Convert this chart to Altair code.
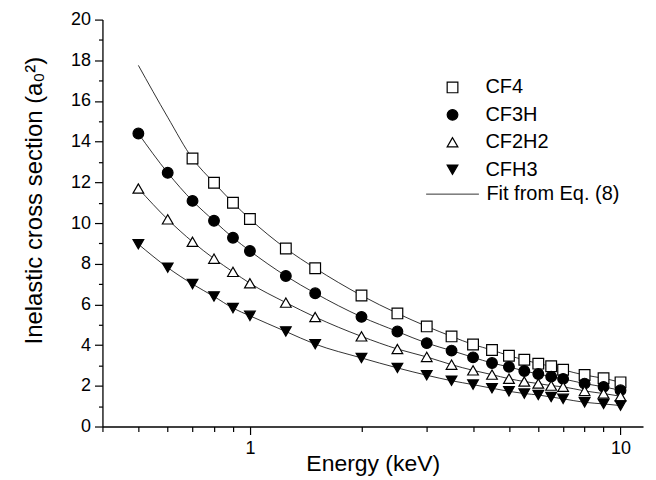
import altair as alt
import pandas as pd

# ---- data ----
series_names = ["CF4", "CF3H", "CF2H2", "CFH3"]
energy_all = [0.5, 0.6, 0.7, 0.8, 0.9, 1.0, 1.25, 1.5, 2, 2.5, 3, 3.5, 4, 4.5,
              5, 5.5, 6, 6.5, 7, 8, 9, 10]
energy_cf4 = energy_all[2:]

cf4 = [13.17, 11.98, 11.0, 10.2, 8.75, 7.78, 6.44, 5.56, 4.92, 4.43, 4.03,
       3.76, 3.48, 3.28, 3.09, 2.96, 2.79, 2.53, 2.37, 2.17]
cf3h = [14.4, 12.47, 11.09, 10.11, 9.28, 8.63, 7.4, 6.55, 5.39, 4.67, 4.10,
        3.73, 3.40, 3.12, 2.93, 2.73, 2.58, 2.45, 2.34, 2.11, 1.95, 1.78]
cf2h2 = [11.70, 10.18, 9.08, 8.25, 7.60, 7.04, 6.09, 5.38, 4.43, 3.81, 3.42,
         3.04, 2.76, 2.55, 2.35, 2.21, 2.11, 2.01, 1.95, 1.75, 1.62, 1.49]
cfh3 = [8.96, 7.81, 7.0, 6.39, 5.82, 5.44, 4.67, 4.05, 3.37, 2.88, 2.52,
        2.25, 2.06, 1.88, 1.73, 1.62, 1.55, 1.45, 1.36, 1.19, 1.11, 1.03]

# fit curves (Eq. 8)
fit_energy = energy_all
fit_cf4 = [17.75, 15.2] + cf4
fit_cf3h = cf3h
fit_cf2h2 = cf2h2
fit_cfh3 = cfh3
fit_label = "Fit from Eq. (8)"

x_major = [1, 10]
x_minor = [0.4, 0.5, 0.6, 0.7, 0.8, 0.9, 2, 3, 4, 5, 6, 7, 8, 9]
y_major = [0, 2, 4, 6, 8, 10, 12, 14, 16, 18, 20]
y_minor = [1, 3, 5, 7, 9, 11, 13, 15, 17, 19]

# ---- tables ----
rows = []
for name, es, vs in [("CF4", energy_cf4, cf4), ("CF3H", energy_all, cf3h),
                     ("CF2H2", energy_all, cf2h2), ("CFH3", energy_all, cfh3)]:
    for e, v in zip(es, vs):
        rows.append({"energy": e, "value": v, "series": name})
pts = pd.DataFrame(rows)

frows = []
for name, vs in [("CF4", fit_cf4), ("CF3H", fit_cf3h),
                 ("CF2H2", fit_cf2h2), ("CFH3", fit_cfh3)]:
    for e, v in zip(fit_energy, vs):
        frows.append({"energy": e, "value": v, "series": name, "fit": fit_label})
fit = pd.DataFrame(frows)

FONT = "Liberation Sans"
xscale = alt.Scale(type="log", domain=[0.4, 11.5], nice=False)
yscale = alt.Scale(domain=[0, 20], nice=False)

x_major_axis = alt.Axis(values=x_major, format="~g", orient="bottom", tickSize=8,
                        labelFontSize=18, labelFont=FONT, labelPadding=5,
                        title="Energy (keV)", titleFontSize=23, titleFont=FONT,
                        titleFontWeight="normal", titleY=44,
                        titleBaseline="alphabetic", grid=False,
                        domainColor="black", tickColor="black", labelColor="black",
                        titleColor="black", domainWidth=1.3, tickWidth=1.2)
y_major_axis = alt.Axis(values=y_major, orient="left", tickSize=8,
                        labelFontSize=18, labelFont=FONT, labelPadding=4,
                        title="Inelastic cross section (a\u2080\u00b2)",
                        titleFontSize=24, titleFont=FONT, titleFontWeight="normal",
                        titleX=-68, titleY=181, titleBaseline="middle",
                        grid=False, domainColor="black", tickColor="black",
                        labelColor="black", titleColor="black",
                        domainWidth=1.3, tickWidth=1.2)

lines = alt.Chart(fit).mark_line(strokeWidth=0.8, interpolate="monotone").encode(
    x=alt.X("energy:Q", scale=xscale, axis=x_major_axis),
    y=alt.Y("value:Q", scale=yscale, axis=y_major_axis),
    detail="series:N",
    color=alt.Color("fit:N", scale=alt.Scale(domain=[fit_label], range=["black"]),
                    legend=alt.Legend(title=None, orient="none", legendX=324,
                                      legendY=148, symbolType="stroke",
                                      symbolSize=2800, symbolStrokeWidth=0.8,
                                      labelFontSize=20, labelFont=FONT,
                                      labelColor="black", labelOffset=7,
                                      padding=0)),
)

sym_legend = alt.Legend(title=None, orient="none", legendX=341, legendY=58,
                        symbolSize=115, symbolStrokeColor="black",
                        symbolStrokeWidth=1.2, labelFontSize=20, labelFont=FONT,
                        labelColor="black", rowPadding=7.5, labelOffset=23,
                        padding=0, symbolOpacity=1)

points = alt.Chart(pts).mark_point(size=115, stroke="black", strokeWidth=1.2,
                                   opacity=1, fillOpacity=1).encode(
    x=alt.X("energy:Q", scale=xscale, axis=None),
    y=alt.Y("value:Q", scale=yscale, axis=None),
    shape=alt.Shape("series:N", sort=series_names,
                    scale=alt.Scale(domain=series_names,
                                    range=["square", "circle", "triangle-up", "triangle-down"]),
                    legend=sym_legend),
    fill=alt.Fill("series:N", sort=series_names,
                  scale=alt.Scale(domain=series_names,
                                  range=["white", "black", "white", "black"]),
                  legend=sym_legend),
    stroke=alt.Stroke("series:N", sort=series_names,
                      scale=alt.Scale(domain=series_names,
                                      range=["black", "black", "black", "black"]),
                      legend=sym_legend),
)

minor = alt.Chart(pts).mark_point(opacity=0).encode(
    x=alt.X("energy:Q", scale=xscale,
            axis=alt.Axis(values=x_minor, orient="bottom", labels=False, title=None,
                          tickSize=5, domain=False, grid=False, tickColor="black",
                          tickWidth=1.2)),
    y=alt.Y("value:Q", scale=yscale,
            axis=alt.Axis(values=y_minor, orient="left", labels=False, title=None,
                          tickSize=4, domain=False, grid=False, tickColor="black",
                          tickWidth=1.2)),
)

chart = alt.layer(lines, points, minor).resolve_axis(
    x="independent", y="independent"
).properties(
    width=542, height=408,
    autosize=alt.AutoSizeParams(type="none"),
    padding={"left": 94.7, "top": 11, "right": 5, "bottom": 52},
    background="white",
).configure_view(stroke=None)

chart.save("out.html", embed_options={"renderer": "svg", "actions": False})
